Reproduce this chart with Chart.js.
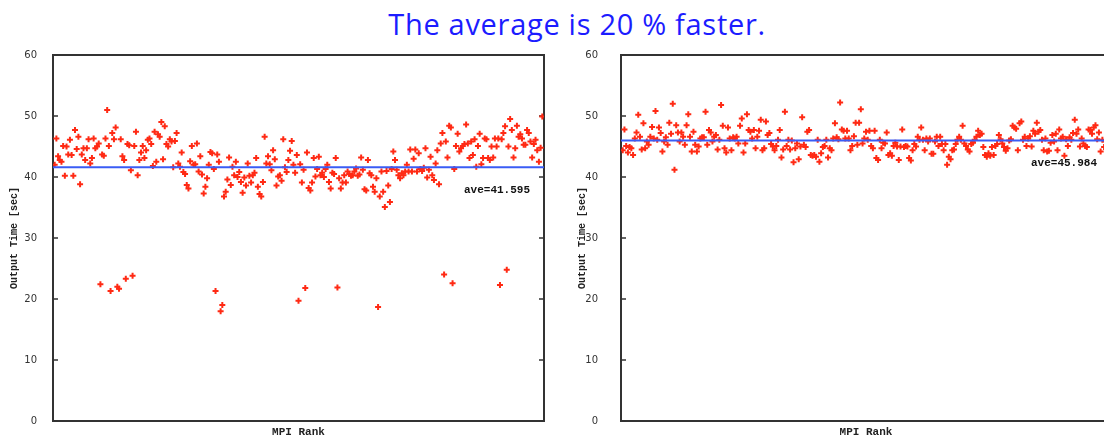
<!DOCTYPE html>
<html>
<head>
<meta charset="utf-8">
<script src="https://cdn.jsdelivr.net/npm/chart.js@4.4.1/dist/chart.umd.min.js"></script>
<style>
  html, body { margin: 0; padding: 0; background: #fff; }
  body { width: 1104px; height: 437px; overflow: hidden; position: relative; }
  #headline {
    position: absolute; left: 0; top: 9px; width: 1154px; text-align: center;
    font-family: "Open Sans", sans-serif; font-size: 29px; line-height: 29px;
    letter-spacing: 0.7px; color: #1c1cff;
  }
  #leftChart { position: absolute; left: 0; top: 0; }
  #rightChart { position: absolute; left: 560px; top: 0; }
</style>
</head>
<body>
<div id="headline">The average is 20 % faster.</div>
<canvas id="leftChart" width="560" height="437"></canvas>
<canvas id="rightChart" width="560" height="437"></canvas>
<script>
// output time per MPI rank [sec]
const leftTimes = [
  42.0, 46.3, 43.4, 42.8, 42.5, 45.1, 40.2, 45.0, 43.7, 46.1, 43.6, 40.2, 47.7, 44.6, 46.6, 38.8, 43.7, 44.7, 42.8, 44.7,
  46.2, 42.2, 43.1, 46.3, 44.7, 45.0, 45.5, 22.4, 43.7, 43.5, 46.3, 51.0, 45.1, 21.3, 47.2, 46.2, 48.1, 22.0, 21.7, 46.2,
  43.4, 42.8, 23.3, 45.4, 45.2, 41.1, 23.8, 45.1, 47.4, 40.3, 42.8, 44.0, 45.1, 43.1, 44.4, 46.1, 46.3, 45.4, 41.8, 47.4,
  42.5, 47.0, 46.6, 49.0, 42.9, 48.3, 45.4, 45.0, 46.2, 45.8, 41.6, 45.9, 47.2, 42.2, 41.7, 44.0, 40.8, 40.5, 38.7, 38.1,
  42.6, 45.1, 42.0, 42.1, 45.5, 40.9, 43.4, 40.4, 37.3, 38.4, 39.8, 42.0, 44.1, 43.9,
  41.3, 21.3, 43.7, 42.5, 18.0, 19.0, 36.8, 37.6, 39.6, 43.2, 38.7, 41.7, 40.3, 42.5, 40.0, 40.8, 39.2, 37.4, 39.9, 38.6,
  42.2, 40.2, 39.1, 40.3, 40.7, 43.1, 38.4, 37.2, 36.8, 39.2, 46.6, 42.2, 43.4, 42.1, 41.1, 44.4, 42.9, 38.6, 40.1, 40.3,
  39.4, 46.2, 41.6, 40.8, 42.8, 44.3, 45.9, 42.0, 40.7, 43.6, 19.7, 42.1, 39.1, 41.2, 21.8, 44.0, 38.2, 37.8, 39.1, 43.1,
  40.1, 41.3, 43.3, 40.3, 40.7, 40.0, 41.3, 42.0, 39.2, 38.1, 40.7, 40.5, 43.1, 21.9, 39.8, 38.1, 39.1, 40.3, 39.1, 40.9,
  40.5, 40.2, 40.3, 40.9, 41.4, 40.2, 40.4, 43.2, 41.2, 38.0, 37.8, 42.8, 40.6, 40.3, 38.4, 37.6, 39.8, 18.7, 36.8, 40.9,
  37.6, 35.1, 41.0, 38.6, 35.9, 41.3, 44.2, 42.8, 41.2, 40.3, 39.8, 40.6, 40.3, 40.9, 42.0, 40.9, 44.5, 40.9, 43.0, 44.5,
  40.9, 43.9, 41.3, 41.0, 41.5, 44.7, 39.9, 41.2, 43.3, 40.3, 39.5, 42.2, 44.4, 38.8, 45.5, 47.2, 24.0, 45.8, 43.2, 48.4,
  48.1, 22.6, 41.3, 45.1, 47.1, 44.2, 44.7, 45.1, 45.4, 48.6, 45.5, 43.1, 45.8, 43.6, 46.2, 41.7, 45.1, 47.1, 42.1, 43.1,
  46.3, 46.2, 43.1, 42.8, 45.0, 43.2, 46.3, 45.0, 46.3, 22.3, 46.2, 47.2, 48.3, 24.8, 45.0, 49.5, 47.7, 43.2, 44.7, 48.4,
  46.6, 47.0, 46.3, 45.3, 45.3, 47.7, 47.2, 45.8, 43.2, 45.4, 46.1, 44.4, 42.5, 44.8, 49.9
];

const rightTimes = [
  44.4, 47.8, 45.1, 44.0, 44.9, 44.7, 43.6, 46.3, 47.3, 50.2, 46.6, 44.5, 48.8, 44.7, 45.8, 45.3, 46.6, 48.2, 46.3, 50.8,
  46.1, 48.1, 47.2, 44.2, 45.8, 46.5, 45.3, 48.9, 47.1, 52.0, 41.2, 48.5, 47.3, 45.8, 47.3, 46.6, 45.3, 48.5, 50.3, 46.6,
  44.2, 47.4, 45.3, 44.2, 45.0, 46.3, 46.5, 46.5, 50.7, 45.3, 47.7, 47.3, 45.8, 46.6, 46.9, 44.5, 46.1, 51.8, 48.4, 44.7,
  44.0, 48.1, 46.3, 44.4, 46.5, 46.3, 46.6, 45.5, 48.4, 49.6, 44.0, 45.5, 50.3, 47.7, 47.4, 46.3, 47.7, 44.7, 46.6, 47.6,
  49.4, 44.4, 44.7, 49.1, 46.9, 47.2, 45.4, 45.0, 44.4, 45.1, 46.1, 47.7, 43.2, 44.5, 50.7, 45.1, 46.1, 44.5, 46.0, 42.4,
  44.7, 45.5, 42.9, 45.0, 49.8, 45.3, 44.9, 47.4, 47.7, 43.6, 43.5, 43.6, 43.3, 46.1, 42.5, 43.9, 44.9, 45.1, 46.1, 43.2,
  44.7, 44.4, 46.3, 48.8, 46.5,
  46.2, 52.2, 47.8, 47.6, 46.3, 47.6, 46.3, 44.4, 45.1, 46.7, 48.9, 45.3, 48.9, 51.1, 45.5, 46.3, 47.4, 46.1, 47.6, 45.1,
  44.7, 47.6, 43.1, 42.8, 46.1, 44.7, 45.6, 45.5, 47.3, 43.6, 43.9, 43.5, 45.1, 45.6, 45.0, 42.8, 45.0, 47.8, 44.9, 45.1,
  45.0, 43.1, 42.7, 44.4, 45.4, 45.0, 46.6, 46.1, 48.1, 46.1, 44.4, 46.3, 45.8, 46.3, 43.8, 43.8, 45.8, 46.6, 45.1, 46.6,
  45.4, 44.4, 45.4, 42.0, 43.3, 42.9, 44.4, 44.5, 45.4, 46.1, 46.6, 46.1, 48.4, 45.5, 45.1, 44.5, 44.2, 45.4, 45.6, 46.1,
  46.6, 47.6, 46.9, 47.1, 44.9, 43.6, 43.3, 43.9, 43.5, 44.9, 43.6, 45.1, 45.4, 46.9, 46.2, 45.5, 44.9, 44.3, 44.7, 46.0,
  46.2, 48.4, 48.1, 47.9, 44.4, 48.8, 49.1, 46.1, 46.6, 45.1, 46.3, 46.7, 45.0, 47.6, 47.1, 48.9, 47.4, 47.7, 46.1, 44.4,
  46.3, 44.2, 44.3, 45.6, 46.9, 45.8, 47.1, 44.4, 47.8, 46.3, 46.6, 43.5, 46.2, 45.1, 46.5, 46.1, 47.2, 49.4, 47.1, 47.8,
  45.0, 46.3, 45.5, 45.1, 44.9, 47.8, 47.7, 47.1, 48.1, 48.5, 46.2, 47.3, 44.2, 46.1, 44.9, 45.8, 47.0, 44.8
];

const leftAverage = 41.595;
const rightAverage = 45.984;
const yTicks = [0, 10, 20, 30, 40, 50, 60];

// frame, inward tick marks and the "ave=" note
const framePlugin = {
  id: 'frame',
  beforeDatasetsDraw(chart) {
    const { ctx, chartArea: a, scales: { y } } = chart;
    ctx.save();
    ctx.strokeStyle = '#333';
    ctx.lineWidth = 2;
    ctx.strokeRect(a.left, a.top, a.right - a.left, a.bottom - a.top);
    ctx.lineWidth = 1.5;
    ctx.beginPath();
    y.ticks.forEach(t => {
      const py = y.getPixelForValue(t.value);
      ctx.moveTo(a.left, py); ctx.lineTo(a.left + 5, py);
      ctx.moveTo(a.right, py); ctx.lineTo(a.right - 5, py);
    });
    ctx.stroke();
    ctx.restore();
  },
  afterDatasetsDraw(chart, args, opts) {
    const { ctx, chartArea: a, scales: { y } } = chart;
    ctx.save();
    ctx.font = 'bold 11px "Liberation Mono"';
    ctx.fillStyle = '#111';
    ctx.textAlign = 'right';
    ctx.textBaseline = 'middle';
    ctx.fillText('ave=' + opts.avg.toFixed(3), a.right - 14, y.getPixelForValue(opts.avg) + 23);
    ctx.restore();
  }
};

function makeChart(id, times, avg, axisWidth, tickPad, titlePad, padRight) {
  const n = times.length;
  const points = times.map((v, i) => ({ x: i, y: v }));
  return new Chart(document.getElementById(id), {
    type: 'scatter',
    data: {
      datasets: [{
        type: 'line',
        data: [{ x: -1, y: avg }, { x: n, y: avg }],
        borderColor: '#3a5cf5',
        borderWidth: 2,
        pointRadius: 0,
        order: 0
      }, {
        data: points,
        pointStyle: 'cross',
        pointRadius: 3,
        borderColor: '#ff2a14',
        borderWidth: 2,
        order: 1
      }]
    },
    options: {
      responsive: false,
      animation: false,
      devicePixelRatio: 1,
      layout: { padding: { top: 55, right: padRight, bottom: 0, left: 0 } },
      plugins: {
        legend: { display: false },
        tooltip: { enabled: false },
        frame: { avg: avg }
      },
      scales: {
        x: {
          type: 'linear',
          min: -1,
          max: n,
          ticks: { display: false },
          grid: { display: false },
          border: { display: false },
          title: {
            display: true,
            text: 'MPI Rank',
            color: '#222',
            font: { family: 'Liberation Mono', size: 11, weight: 'bold', lineHeight: 0.8 },
            padding: 0
          },
          afterFit(s) { s.height = 16; }
        },
        y: {
          min: 0,
          max: 60,
          afterBuildTicks(s) { s.ticks = yTicks.map(v => ({ value: v })); },
          ticks: {
            color: '#333',
            padding: tickPad,
            font: { family: 'DejaVu Sans', size: 10 }
          },
          grid: { display: false },
          border: { display: false },
          title: {
            display: true,
            text: 'Output Time [sec]',
            color: '#222',
            font: { family: 'Liberation Mono', size: 10, weight: 'bold' },
            padding: { top: titlePad, bottom: 0 }
          },
          afterFit(s) {
            s.width = axisWidth;
            s.paddingTop = 0;
            s.paddingBottom = 0;
          }
        }
      }
    },
    plugins: [framePlugin]
  });
}

makeChart('leftChart', leftTimes, leftAverage, 53, 8, 8, 16);
makeChart('rightChart', rightTimes, rightAverage, 61, 15, 16, 9);
</script>
</body>
</html>
